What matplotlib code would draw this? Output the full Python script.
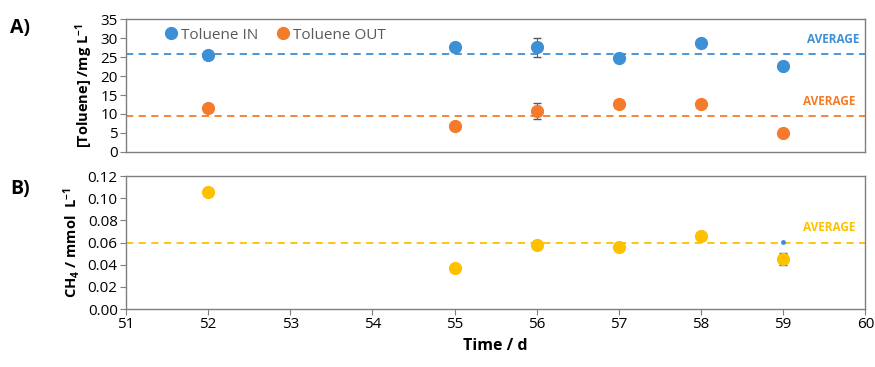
import matplotlib.pyplot as plt
import numpy as np

plt.rcParams['font.family'] = ['Open Sans', 'DejaVu Sans']
plt.rcParams['mathtext.default'] = 'regular'

# Data
days = [52, 55, 56, 57, 58, 59]
tol_in = [25.5, 27.6, 27.6, 24.7, 28.7, 22.6]
tol_in_err = [0.4, 0.5, 2.5, 0.3, 0.3, 0.3]
tol_out = [11.6, 6.8, 10.8, 12.6, 12.6, 5.0]
tol_out_err = [0.3, 0.3, 2.0, 0.5, 0.4, 0.3]
tol_in_avg = 25.8
tol_out_avg = 9.4

ch4 = [0.1055, 0.037, 0.0575, 0.056, 0.066, 0.045]
ch4_err = [0.0005, 0.0005, 0.001, 0.0005, 0.0005, 0.0055]
ch4_avg = 0.060
ch4_extra_day = [59]
ch4_extra = [0.0605]

blue = '#3d8fd6'
orange = '#f47b2a'
yellow = '#ffc000'
grey = '#595959'

fig = plt.figure(figsize=(8.75, 3.67), dpi=100)
ax1 = fig.add_axes([0.144, 0.586, 0.845, 0.362])
ax2 = fig.add_axes([0.144, 0.158, 0.845, 0.362])

for ax in (ax1, ax2):
    for s in ax.spines.values():
        s.set_color('#7f7f7f')
        s.set_linewidth(1.0)
    ax.set_xlim(51, 60)
    ax.tick_params(axis='both', direction='out', length=4, color='#7f7f7f',
                   labelsize=11, labelcolor='black', pad=2)

# Panel A
ax1.errorbar(days, tol_in, yerr=tol_in_err, fmt='o', color=blue, ms=8.5,
             ecolor=grey, elinewidth=0.8, capsize=3, label='Toluene IN', zorder=3)
ax1.errorbar(days, tol_out, yerr=tol_out_err, fmt='o', color=orange, ms=8.5,
             ecolor=grey, elinewidth=0.8, capsize=3, label='Toluene OUT', zorder=3)
ax1.axhline(tol_in_avg, color=blue, ls=(0, (4, 3)), lw=1.3, zorder=2)
ax1.axhline(tol_out_avg, color=orange, ls=(0, (4, 3)), lw=1.3, zorder=2)
ax1.set_ylim(0, 35)
ax1.set_yticks(np.arange(0, 36, 5))
ax1.set_xticks(np.arange(51, 61, 1))
ax1.tick_params(axis='x', bottom=False, labelbottom=False)
ax1.set_ylabel('[Toluene] /mg L$^{-1}$', fontsize=10.5, fontweight='bold', labelpad=4)
ax1.text(59.93, tol_in_avg + 3.7, 'AVERAGE', color=blue, fontsize=8.5,
         fontweight='bold', ha='right', va='center')
ax1.text(59.88, tol_out_avg + 4.0, 'AVERAGE', color=orange, fontsize=8.5,
         fontweight='bold', ha='right', va='center')
handles, labels = ax1.get_legend_handles_labels()
handles = [h[0] for h in handles]
leg = ax1.legend(handles, labels, loc='upper left', bbox_to_anchor=(0.03, 1.04),
                 ncol=2, frameon=False, fontsize=11, handletextpad=0.05,
                 columnspacing=1.0, handlelength=1.2)
for t in leg.get_texts():
    t.set_color(grey)

# Panel B
ax2.errorbar(days, ch4, yerr=ch4_err, fmt='o', color=yellow, ms=8.5,
             ecolor=grey, elinewidth=0.8, capsize=3, zorder=3)
ax2.plot(ch4_extra_day, ch4_extra, 'o', color=blue, ms=2.5, zorder=4)
ax2.axhline(ch4_avg, color=yellow, ls=(0, (4, 3)), lw=1.3, zorder=2)
ax2.set_ylim(0, 0.12)
ax2.set_yticks(np.arange(0, 0.121, 0.02))
ax2.set_yticklabels([f'{v:.2f}' for v in np.arange(0, 0.121, 0.02)])
ax2.set_xticks(np.arange(51, 61, 1))
ax2.set_ylabel('CH$_4$ / mmol  L$^{-1}$', fontsize=10.5, fontweight='bold', labelpad=4)
ax2.set_xlabel('Time / d', fontsize=11.5, fontweight='bold', labelpad=4)
ax2.text(59.88, ch4_avg + 0.014, 'AVERAGE', color=yellow, fontsize=8.5,
         fontweight='bold', ha='right', va='center')

fig.text(0.012, 0.925, 'A)', fontsize=14, fontweight='bold', va='center')
fig.text(0.012, 0.485, 'B)', fontsize=14, fontweight='bold', va='center')

fig.savefig('out.png', dpi=100)
